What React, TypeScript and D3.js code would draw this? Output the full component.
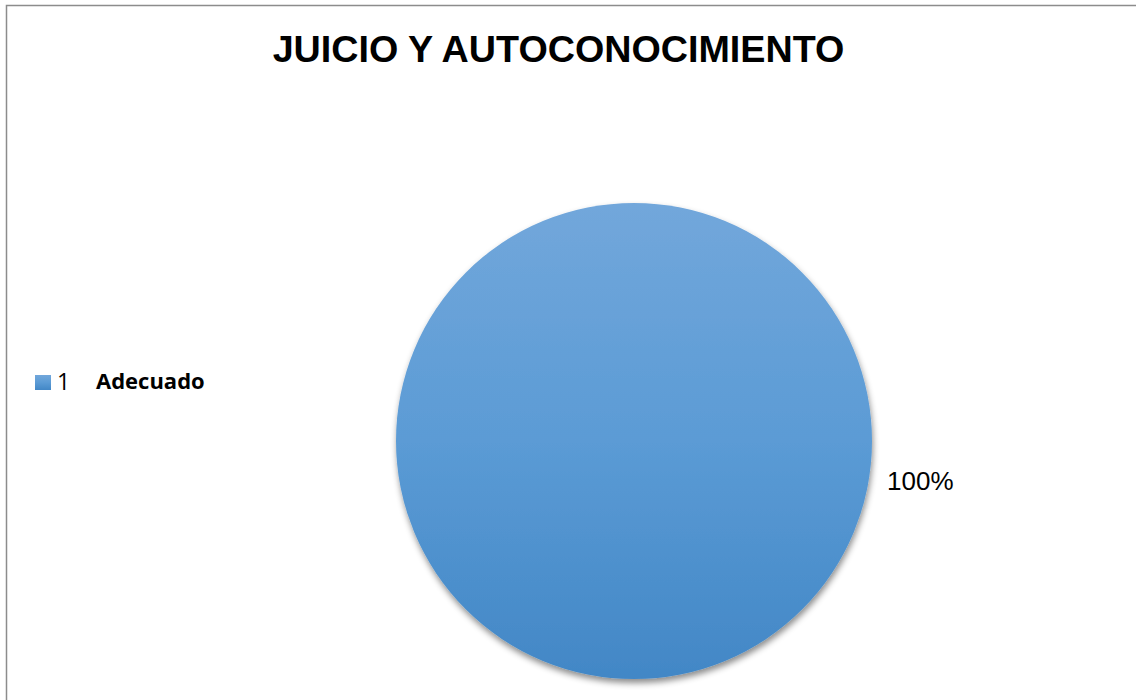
import * as React from 'react';
import * as d3 from 'd3';

const categories = ['Adecuado'];
const legendIndex = ['1'];
const values = [100];
const title = 'JUICIO Y AUTOCONOCIMIENTO';

const W = 1136;
const H = 700;
const SANS = "'Liberation Sans', Arial, Helvetica, sans-serif";
const LEGEND_FONT = "'Open Sans', Lato, sans-serif";

export default function App() {
  const ref = React.useRef<SVGSVGElement>(null);

  React.useEffect(() => {
    const svg = d3.select(ref.current);
    svg.selectAll('*').remove();

    const defs = svg.append('defs');
    const grad = defs.append('linearGradient')
      .attr('id', 'sliceGrad')
      .attr('x1', 0).attr('y1', 0).attr('x2', 0).attr('y2', 1);
    grad.append('stop').attr('offset', '0%').attr('stop-color', '#72a7db');
    grad.append('stop').attr('offset', '50%').attr('stop-color', '#5b9bd5');
    grad.append('stop').attr('offset', '100%').attr('stop-color', '#4287c6');

    const shadow = defs.append('filter')
      .attr('id', 'shadow')
      .attr('x', '-10%').attr('y', '-10%')
      .attr('width', '120%').attr('height', '120%');
    shadow.append('feDropShadow')
      .attr('dx', 1).attr('dy', 4)
      .attr('stdDeviation', 3)
      .attr('flood-color', '#000')
      .attr('flood-opacity', 0.45);

    // chart area frame
    svg.append('rect')
      .attr('x', 6.5).attr('y', 5.5)
      .attr('width', W + 20).attr('height', H + 20)
      .attr('fill', '#fff')
      .attr('stroke', '#8c8c8c')
      .attr('stroke-width', 1.5);

    svg.append('text')
      .attr('x', 558.5)
      .attr('y', 62)
      .attr('text-anchor', 'middle')
      .style('font-family', SANS)
      .attr('font-weight', 'bold')
      .attr('font-size', '37.7px')
      .attr('fill', '#000')
      .text(title);

    const cx = 634;
    const cy = 441;
    const radius = 238;

    const pie = d3.pie<number>().sort(null).startAngle(0).endAngle(2 * Math.PI);
    const arc = d3.arc<d3.PieArcDatum<number>>().innerRadius(0).outerRadius(radius);
    const arcs = pie(values);

    const g = svg.append('g').attr('transform', `translate(${cx}, ${cy})`);
    g.selectAll('path.slice')
      .data(arcs)
      .enter()
      .append('path')
      .attr('class', 'slice')
      .attr('d', arc)
      .attr('fill', 'url(#sliceGrad)')
      .attr('filter', 'url(#shadow)');

    const total = d3.sum(values);
    g.selectAll('text.label')
      .data(arcs)
      .enter()
      .append('text')
      .attr('class', 'label')
      .attr('x', radius + 15)
      .attr('y', 49)
      .style('font-family', SANS)
      .attr('font-size', '26px')
      .attr('fill', '#000')
      .text((d) => `${Math.round((d.data / total) * 100)}%`);

    const legend = svg.append('g').attr('transform', 'translate(35, 375)');
    categories.forEach((c, i) => {
      const row = legend.append('g').attr('transform', `translate(0, ${i * 28})`);
      row.append('rect')
        .attr('width', 16).attr('height', 15)
        .attr('fill', 'url(#sliceGrad)');
      row.append('text')
        .attr('x', 22).attr('y', 15)
        .style('font-family', LEGEND_FONT)
        .attr('font-size', '23px')
        .attr('fill', '#000')
        .text(legendIndex[i]);
      row.append('text')
        .attr('x', 61).attr('y', 14)
        .style('font-family', LEGEND_FONT)
        .attr('font-weight', 'bold')
        .attr('font-size', '22px')
        .attr('fill', '#000')
        .text(c);
    });
  }, []);

  return (
    <svg
      ref={ref}
      width={W}
      height={H}
      style={{ position: 'absolute', left: 0, top: 0, display: 'block', background: '#fff' }}
    />
  );
}
